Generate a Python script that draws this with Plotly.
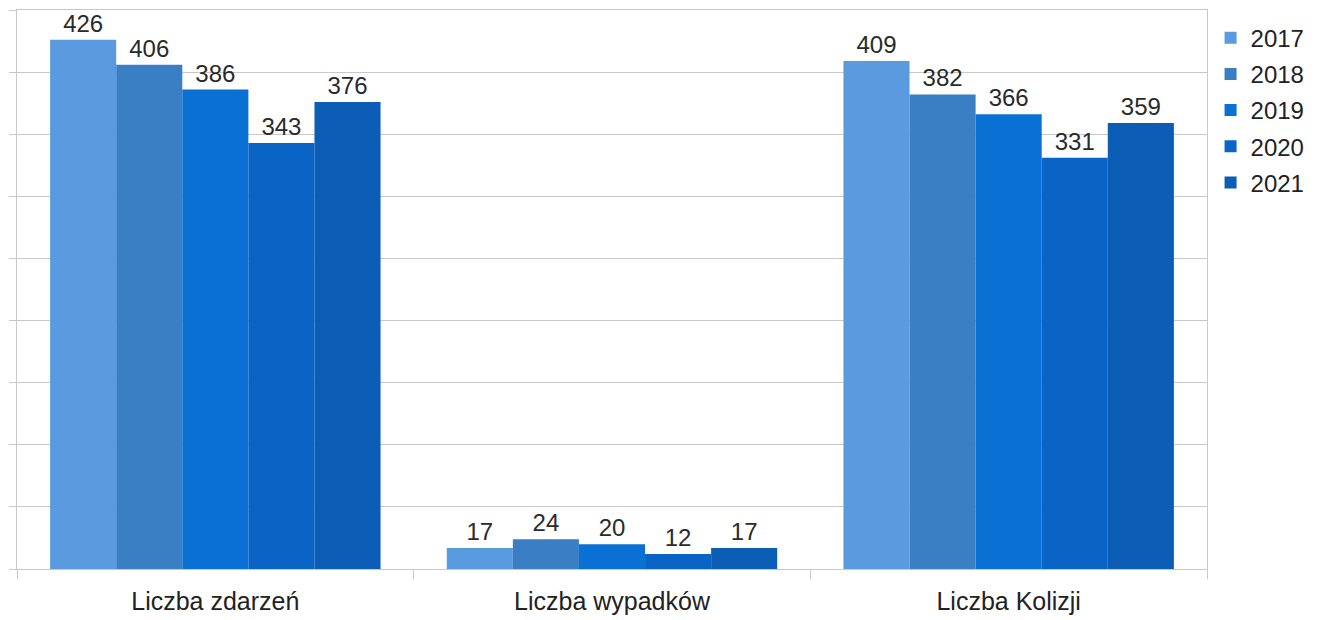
import plotly.graph_objects as go

categories = ["Liczba zdarzeń", "Liczba wypadków", "Liczba Kolizji"]
years = ["2017", "2018", "2019", "2020", "2021"]
values = {
    "2017": [426, 17, 409],
    "2018": [406, 24, 382],
    "2019": [386, 20, 366],
    "2020": [343, 12, 331],
    "2021": [376, 17, 359],
}
colors = ["#5a9ade", "#3a7fc4", "#0a70d4", "#0a64c6", "#0c5db6"]

fig = go.Figure()
for year, color in zip(years, colors):
    fig.add_trace(go.Bar(
        x=categories, y=values[year], name=year, legendgroup=year,
        marker=dict(color=color, line=dict(width=0)),
        text=values[year], textposition="outside", constraintext="none",
        textfont=dict(size=24, color="#2a2a2a"),
        cliponaxis=False,
    ))

# page has an 8px body offset, so margins are shifted to keep the plot in place
fig.update_layout(
    width=1320, height=620,
    margin=dict(l=9, r=121, t=2, b=59, autoexpand=False),
    barmode="group", bargap=0.167, bargroupgap=0,
    plot_bgcolor="white", paper_bgcolor="white",
    font=dict(family="Liberation Sans, Arial, sans-serif", size=24, color="#222222"),
    legend=dict(x=1.003, y=0.99, xanchor="left", yanchor="top",
                font=dict(size=24), itemwidth=30, tracegroupgap=2),
)
fig.update_xaxes(
    showline=True, linecolor="#c8c8c8", linewidth=1, mirror=True,
    ticks="outside", tickson="boundaries", ticklen=9, tickcolor="#c8c8c8",
    tickfont=dict(size=25, color="#222222"), ticklabelstandoff=10,
)
fig.update_yaxes(
    range=[0, 450], dtick=50, showticklabels=False,
    showgrid=True, gridcolor="#c8c8c8", gridwidth=1,
    ticks="outside", ticklen=7, tickcolor="#c8c8c8",
    showline=True, linecolor="#c8c8c8", linewidth=1, mirror=True,
    zeroline=False,
)

fig.write_html("out.html")
